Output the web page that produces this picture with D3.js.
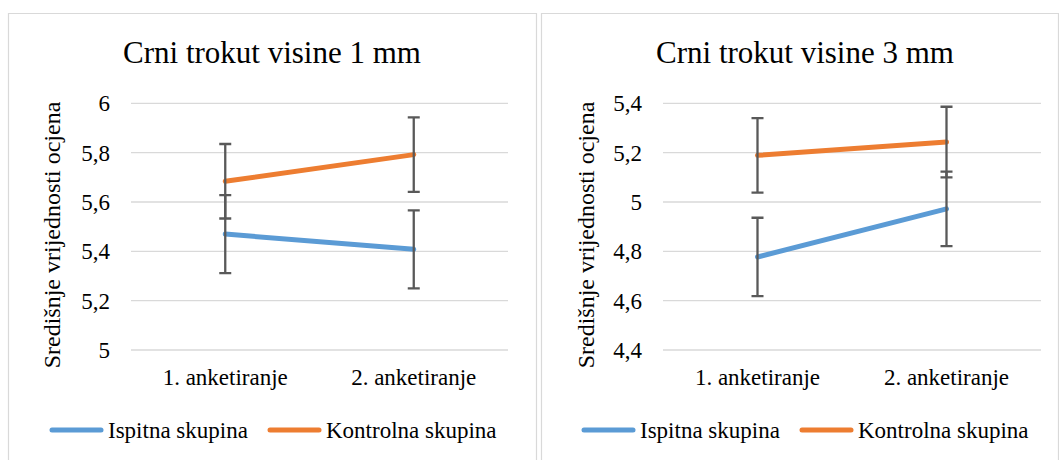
<!DOCTYPE html>
<html>
<head>
<meta charset="utf-8">
<script src="https://cdn.jsdelivr.net/npm/d3@7"></script>
</head>
<body style="margin:0;background:#fff">
<svg id="chart" width="1059" height="460" font-family="Liberation Serif" style="display:block"></svg>
<script>
// ---- Data ----
const categories = ["1. anketiranje", "2. anketiranje"];
const seriesNames = ["Ispitna skupina", "Kontrolna skupina"];
const seriesColors = ["#5B9BD5", "#ED7D31"];

const titles = ["Crni trokut visine 1 mm", "Crni trokut visine 3 mm"];
const yAxisTitle = "Središnje vrijednosti ocjena";

// Panel 1 (1 mm)
const p1Ispitna = [5.47, 5.408];
const p1IspitnaErr = [0.158, 0.158];
const p1Kontrolna = [5.684, 5.792];
const p1KontrolnaErr = [0.151, 0.151];
const p1Ticks = [5, 5.2, 5.4, 5.6, 5.8, 6];

// Panel 2 (3 mm)
const p2Ispitna = [4.777, 4.972];
const p2IspitnaErr = [0.159, 0.151];
const p2Kontrolna = [5.189, 5.243];
const p2KontrolnaErr = [0.151, 0.143];
const p2Ticks = [4.4, 4.6, 4.8, 5, 5.2, 5.4];

const FONT = "Liberation Serif";

const panels = [
  { title: titles[0], ticks: p1Ticks, series: [[p1Ispitna, p1IspitnaErr], [p1Kontrolna, p1KontrolnaErr]],
    frame: [8, 537], plotX: [131, 508], yTitleX: 52, tickRight: 110, titleX: 272,
    legend: [{lx: 50, tx: 108}, {lx: 268, tx: 326}] },
  { title: titles[1], ticks: p2Ticks, series: [[p2Ispitna, p2IspitnaErr], [p2Kontrolna, p2KontrolnaErr]],
    frame: [541, 1059], plotX: [663, 1041], yTitleX: 586, tickRight: 642, titleX: 805,
    legend: [{lx: 582, tx: 640}, {lx: 800, tx: 858}] }
];

const svg = d3.select("#chart");
const plotTop = 103.3, plotBottom = 350;
const fmt = v => String(+v.toFixed(1)).replace(".", ",");

function addText(x, y, str, size, anchor) {
  return svg.append("text").attr("x", x).attr("y", y)
    .attr("font-family", FONT).attr("font-size", size)
    .attr("text-anchor", anchor || "start").text(str);
}

panels.forEach(p => {
  // frame
  svg.append("path")
    .attr("d", `M${p.frame[0] + 0.5},470 V13.5 H${p.frame[1] - 0.5} V470`)
    .attr("fill", "none").attr("stroke", "#d9d9d9").attr("stroke-width", 1.2);

  const x = d3.scalePoint().domain(categories).range(p.plotX).padding(0.5);
  const y = d3.scaleLinear().domain([p.ticks[0], p.ticks[p.ticks.length - 1]]).range([plotBottom, plotTop]);

  // gridlines
  p.ticks.forEach(t => {
    svg.append("line").attr("x1", p.plotX[0]).attr("x2", p.plotX[1])
      .attr("y1", y(t)).attr("y2", y(t))
      .attr("stroke", "#d9d9d9").attr("stroke-width", 1.3);
  });

  // y tick labels
  p.ticks.forEach(t => addText(p.tickRight, y(t) + 8, fmt(t), 23, "end"));

  // x tick labels
  categories.forEach(c => addText(x(c), 385, c, 23, "middle"));

  // title
  addText(p.titleX, 63, p.title, 31, "middle");

  // y axis title
  svg.append("text").attr("transform", `translate(${p.yTitleX + 8},235) rotate(-90)`)
    .attr("text-anchor", "middle")
    .attr("font-family", FONT).attr("font-size", 24)
    .text(yAxisTitle);

  // series
  p.series.forEach(([vals, errs], si) => {
    const pts = categories.map((c, i) => ({ c, v: vals[i], e: errs[i] }));
    svg.append("path").datum(pts)
      .attr("d", d3.line().x(d => x(d.c)).y(d => y(d.v)))
      .attr("fill", "none").attr("stroke", seriesColors[si]).attr("stroke-width", 5)
      .attr("stroke-linecap", "round").attr("stroke-linejoin", "round");
    pts.forEach(d => {
      const cx = x(d.c), y1 = y(d.v + d.e), y0 = y(d.v - d.e);
      svg.append("path")
        .attr("d", `M${cx},${y0} V${y1} M${cx - 6},${y1} H${cx + 6} M${cx - 6},${y0} H${cx + 6}`)
        .attr("fill", "none").attr("stroke", "#595959").attr("stroke-width", 2.3);
    });
  });

  // legend
  seriesNames.forEach((name, si) => {
    const L = p.legend[si];
    svg.append("line").attr("x1", L.lx + 2).attr("x2", L.lx + 51).attr("y1", 430).attr("y2", 430)
      .attr("stroke", seriesColors[si]).attr("stroke-width", 5).attr("stroke-linecap", "round");
    addText(L.tx, 438, name, 23, "start");
  });
});
</script>
</body>
</html>
